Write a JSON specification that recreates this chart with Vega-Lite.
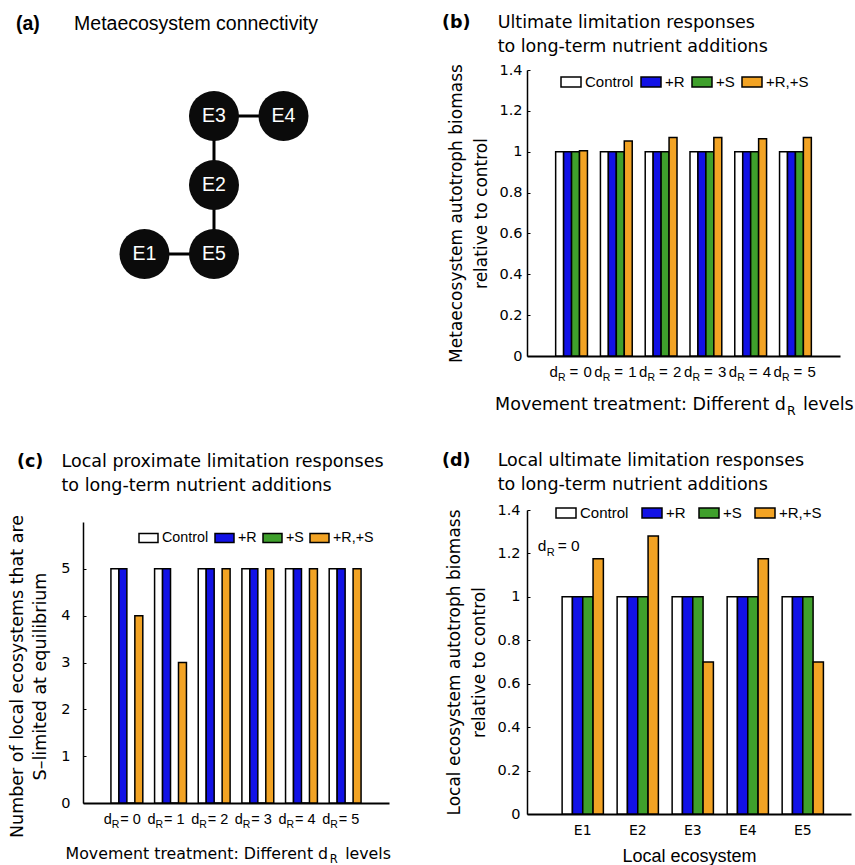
{
  "$schema": "https://vega.github.io/schema/vega-lite/v6.json",
  "background": "white",
  "padding": {"left": 8, "top": 13, "right": 0, "bottom": 0},
  "bounds": "full",
  "spacing": 51,
  "resolve": {
    "scale": {"x": "independent", "y": "independent", "fill": "independent", "xOffset": "independent"},
    "legend": {"fill": "independent"}
  },
  "datasets": {
    "b": [
      {"dR": "0", "treatment": "Control", "value": 1}, {"dR": "0", "treatment": "+R", "value": 1}, {"dR": "0", "treatment": "+S", "value": 1}, {"dR": "0", "treatment": "+R,+S", "value": 1.005},
      {"dR": "1", "treatment": "Control", "value": 1}, {"dR": "1", "treatment": "+R", "value": 1}, {"dR": "1", "treatment": "+S", "value": 1}, {"dR": "1", "treatment": "+R,+S", "value": 1.052},
      {"dR": "2", "treatment": "Control", "value": 1}, {"dR": "2", "treatment": "+R", "value": 1}, {"dR": "2", "treatment": "+S", "value": 1}, {"dR": "2", "treatment": "+R,+S", "value": 1.069},
      {"dR": "3", "treatment": "Control", "value": 1}, {"dR": "3", "treatment": "+R", "value": 1}, {"dR": "3", "treatment": "+S", "value": 1}, {"dR": "3", "treatment": "+R,+S", "value": 1.069},
      {"dR": "4", "treatment": "Control", "value": 1}, {"dR": "4", "treatment": "+R", "value": 1}, {"dR": "4", "treatment": "+S", "value": 1}, {"dR": "4", "treatment": "+R,+S", "value": 1.064},
      {"dR": "5", "treatment": "Control", "value": 1}, {"dR": "5", "treatment": "+R", "value": 1}, {"dR": "5", "treatment": "+S", "value": 1}, {"dR": "5", "treatment": "+R,+S", "value": 1.069}
    ],
    "c": [
      {"dR": "0", "treatment": "Control", "value": 5}, {"dR": "0", "treatment": "+R", "value": 5}, {"dR": "0", "treatment": "+S", "value": 0}, {"dR": "0", "treatment": "+R,+S", "value": 4},
      {"dR": "1", "treatment": "Control", "value": 5}, {"dR": "1", "treatment": "+R", "value": 5}, {"dR": "1", "treatment": "+S", "value": 0}, {"dR": "1", "treatment": "+R,+S", "value": 3},
      {"dR": "2", "treatment": "Control", "value": 5}, {"dR": "2", "treatment": "+R", "value": 5}, {"dR": "2", "treatment": "+S", "value": 0}, {"dR": "2", "treatment": "+R,+S", "value": 5},
      {"dR": "3", "treatment": "Control", "value": 5}, {"dR": "3", "treatment": "+R", "value": 5}, {"dR": "3", "treatment": "+S", "value": 0}, {"dR": "3", "treatment": "+R,+S", "value": 5},
      {"dR": "4", "treatment": "Control", "value": 5}, {"dR": "4", "treatment": "+R", "value": 5}, {"dR": "4", "treatment": "+S", "value": 0}, {"dR": "4", "treatment": "+R,+S", "value": 5},
      {"dR": "5", "treatment": "Control", "value": 5}, {"dR": "5", "treatment": "+R", "value": 5}, {"dR": "5", "treatment": "+S", "value": 0}, {"dR": "5", "treatment": "+R,+S", "value": 5}
    ],
    "d": [
      {"eco": "E1", "treatment": "Control", "value": 1}, {"eco": "E1", "treatment": "+R", "value": 1}, {"eco": "E1", "treatment": "+S", "value": 1}, {"eco": "E1", "treatment": "+R,+S", "value": 1.175},
      {"eco": "E2", "treatment": "Control", "value": 1}, {"eco": "E2", "treatment": "+R", "value": 1}, {"eco": "E2", "treatment": "+S", "value": 1}, {"eco": "E2", "treatment": "+R,+S", "value": 1.28},
      {"eco": "E3", "treatment": "Control", "value": 1}, {"eco": "E3", "treatment": "+R", "value": 1}, {"eco": "E3", "treatment": "+S", "value": 1}, {"eco": "E3", "treatment": "+R,+S", "value": 0.7},
      {"eco": "E4", "treatment": "Control", "value": 1}, {"eco": "E4", "treatment": "+R", "value": 1}, {"eco": "E4", "treatment": "+S", "value": 1}, {"eco": "E4", "treatment": "+R,+S", "value": 1.175},
      {"eco": "E5", "treatment": "Control", "value": 1}, {"eco": "E5", "treatment": "+R", "value": 1}, {"eco": "E5", "treatment": "+S", "value": 1}, {"eco": "E5", "treatment": "+R,+S", "value": 0.7}
    ],
    "groups": [{"dR": "0"}, {"dR": "1"}, {"dR": "2"}, {"dR": "3"}, {"dR": "4"}, {"dR": "5"}],
    "one": [{"k": 1}],
    "nodes": [
      {"id": "E1", "gx": -1, "gy": 0}, {"id": "E2", "gx": 0, "gy": 1}, {"id": "E3", "gx": 0, "gy": 2},
      {"id": "E4", "gx": 1, "gy": 2}, {"id": "E5", "gx": 0, "gy": 0}
    ],
    "edges": [
      {"gx": 0, "gy": 2, "gx2": 1, "gy2": 2},
      {"gx": 0, "gy": 2, "gx2": 0, "gy2": 1},
      {"gx": 0, "gy": 1, "gx2": 0, "gy2": 0},
      {"gx": -1, "gy": 0, "gx2": 0, "gy2": 0}
    ]
  },
  "hconcat": [
    {
      "bounds": "flush",
      "spacing": 154,
      "resolve": {
        "scale": {"x": "independent", "y": "independent", "fill": "independent", "xOffset": "independent"},
        "legend": {"fill": "independent"}
      },
      "vconcat": [
        {
          "width": 305,
          "height": 298,
          "title": {
            "text": "(a)",
            "subtitle": "\u200b\u00a0\u00a0\u00a0\u00a0\u00a0\u00a0\u00a0\u00a0\u00a0\u00a0\u2009Metaecosystem connectivity",
            "anchor": "start", "frame": "group", "dx": -67, "offset": 36,
            "font": "Liberation Sans", "fontSize": 19.5, "fontWeight": "bold", "color": "black",
            "subtitleFont": "Liberation Sans", "subtitleFontSize": 19.5, "subtitleColor": "black", "subtitlePadding": -19.5
          },
          "layer": [
            {
              "data": {"name": "edges"},
              "mark": {"type": "rule", "strokeWidth": 3, "color": "black"},
              "encoding": {
                "x": {"field": "gx", "type": "quantitative", "scale": {"domain": [-1.885, 2.504], "nice": false, "zero": false}, "axis": null},
                "y": {"field": "gy", "type": "quantitative", "scale": {"domain": [-1.652, 2.667], "nice": false, "zero": false}, "axis": null},
                "x2": {"field": "gx2"},
                "y2": {"field": "gy2"}
              }
            },
            {
              "data": {"name": "nodes"},
              "mark": {"type": "point", "shape": "circle", "filled": true, "size": 2500, "color": "#0b0b0b", "opacity": 1},
              "encoding": {
                "x": {"field": "gx", "type": "quantitative", "axis": null},
                "y": {"field": "gy", "type": "quantitative", "axis": null}
              }
            },
            {
              "data": {"name": "nodes"},
              "mark": {"type": "text", "color": "white", "font": "Liberation Sans", "fontSize": 19.5, "baseline": "middle", "align": "center"},
              "encoding": {
                "x": {"field": "gx", "type": "quantitative", "axis": null},
                "y": {"field": "gy", "type": "quantitative", "axis": null},
                "text": {"field": "id"}
              }
            }
          ]
        },
        {
          "width": 306,
          "height": 281,
          "title": {
            "text": "(c)",
            "subtitle": ["\u200b\u00a0\u00a0\u00a0\u00a0\u00a0\u00a0\u00a0\u00a0Local proximate limitation responses", "\u200b\u00a0\u00a0\u00a0\u00a0\u00a0\u00a0\u00a0\u00a0to long-term nutrient additions"],
            "anchor": "start", "frame": "group", "dx": -66, "offset": 20,
            "font": "DejaVu Sans", "fontSize": 17.5, "fontWeight": "bold", "color": "black",
            "subtitleFont": "DejaVu Sans", "subtitleFontSize": 17.5, "subtitleColor": "black", "subtitlePadding": -17.5, "subtitleLineHeight": 24
          },
          "layer": [
            {
              "data": {"name": "c"},
              "mark": {"type": "bar", "stroke": "black", "strokeWidth": 1.5},
              "encoding": {
                "x": {"field": "dR", "type": "nominal", "scale": {"paddingInner": 0.27, "paddingOuter": 0.64},
                      "axis": {"labels": false, "ticks": false, "title": null, "domainWidth": 2}},
                "xOffset": {"field": "treatment", "type": "nominal", "scale": {"domain": ["Control", "+R", "+S", "+R,+S"], "paddingInner": 0, "paddingOuter": 0}},
                "y": {"field": "value", "type": "quantitative", "scale": {"domain": [0, 6], "nice": false},
                      "axis": {"values": [0, 1, 2, 3, 4, 5], "title": ["Number of local ecosystems that are", "S\u2013limited at equilibrium"],
                               "titleFontSize": 17.5, "titleLineHeight": 23, "titlePadding": 11, "titleY": 154, "labelFontSize": 14.5, "tickSize": -3, "labelPadding": 16, "domainWidth": 1.5}},
                "fill": {"field": "treatment", "type": "nominal",
                         "scale": {"domain": ["Control", "+R", "+S", "+R,+S"], "range": ["#ffffff", "#1212e6", "#3fa02c", "#f2a324"]},
                         "legend": {"orient": "none", "legendX": 55, "legendY": 5.5, "direction": "horizontal", "columns": 4, "title": null,
                                    "symbolType": "M-1,-0.47H1V0.47H-1Z", "symbolSize": 361, "symbolStrokeColor": "black", "symbolStrokeWidth": 1.5, "symbolOpacity": 1,
                                    "labelFont": "Liberation Sans", "labelFontSize": 14.3, "labelColor": "black", "labelOffset": 3, "columnPadding": 3, "padding": 0}}
              }
            },
            {
              "data": {"name": "groups"},
              "mark": {"type": "text", "text": "d", "font": "Liberation Sans", "fontSize": 14.5, "align": "left", "baseline": "alphabetic", "dx": -23, "dy": 21, "color": "black"},
              "encoding": {"x": {"field": "dR", "type": "nominal"}, "y": {"datum": 0}}
            },
            {
              "data": {"name": "groups"},
              "mark": {"type": "text", "text": "R", "font": "Liberation Sans", "fontSize": 10.5, "align": "left", "baseline": "alphabetic", "dx": -15, "dy": 25, "color": "black"},
              "encoding": {"x": {"field": "dR", "type": "nominal"}, "y": {"datum": 0}}
            },
            {
              "data": {"name": "groups"},
              "mark": {"type": "text", "text": "=", "font": "Liberation Sans", "fontSize": 14.5, "align": "left", "baseline": "alphabetic", "dx": -6.5, "dy": 21, "color": "black"},
              "encoding": {"x": {"field": "dR", "type": "nominal"}, "y": {"datum": 0}}
            },
            {
              "data": {"name": "groups"},
              "mark": {"type": "text", "font": "Liberation Sans", "fontSize": 14.5, "align": "left", "baseline": "alphabetic", "dx": 6, "dy": 21, "color": "black"},
              "encoding": {"x": {"field": "dR", "type": "nominal"}, "y": {"datum": 0}, "text": {"field": "dR"}}
            },
            {
              "data": {"name": "one"},
              "mark": {"type": "text", "text": "Movement treatment: Different d", "font": "DejaVu Sans", "fontSize": 15.8, "align": "right", "baseline": "alphabetic", "dx": -17, "dy": 56, "color": "black"},
              "encoding": {"x": {"datum": "5"}, "y": {"datum": 0}}
            },
            {
              "data": {"name": "one"},
              "mark": {"type": "text", "text": "R", "font": "DejaVu Sans", "fontSize": 11.5, "align": "left", "baseline": "alphabetic", "dx": -15.5, "dy": 60, "color": "black"},
              "encoding": {"x": {"datum": "5"}, "y": {"datum": 0}}
            },
            {
              "data": {"name": "one"},
              "mark": {"type": "text", "text": "levels", "font": "DejaVu Sans", "fontSize": 15.8, "align": "left", "baseline": "alphabetic", "dx": 0, "dy": 56, "color": "black"},
              "encoding": {"x": {"datum": "5"}, "y": {"datum": 0}}
            }
          ]
        }
      ]
    },
    {
      "bounds": "flush",
      "spacing": 154,
      "resolve": {
        "scale": {"x": "independent", "y": "independent", "fill": "independent", "xOffset": "independent"},
        "legend": {"fill": "independent"}
      },
      "vconcat": [
        {
          "width": 313,
          "height": 286,
          "title": {
            "text": "(b)",
            "subtitle": ["\u200b\u00a0\u00a0\u00a0\u00a0\u00a0\u00a0\u00a0\u00a0\u00a0\u00a0Ultimate limitation responses", "\u200b\u00a0\u00a0\u00a0\u00a0\u00a0\u00a0\u00a0\u00a0\u00a0\u00a0to long-term nutrient additions"],
            "anchor": "start", "frame": "group", "dx": -85, "offset": 7,
            "font": "DejaVu Sans", "fontSize": 17.5, "fontWeight": "bold", "color": "black",
            "subtitleFont": "DejaVu Sans", "subtitleFontSize": 17.5, "subtitleColor": "black", "subtitlePadding": -17.5, "subtitleLineHeight": 24
          },
          "layer": [
            {
              "data": {"name": "b"},
              "mark": {"type": "bar", "stroke": "black", "strokeWidth": 1.5},
              "encoding": {
                "x": {"field": "dR", "type": "nominal", "scale": {"paddingInner": 0.29, "paddingOuter": 0.64},
                      "axis": {"labels": false, "ticks": false, "title": null, "domainWidth": 2}},
                "xOffset": {"field": "treatment", "type": "nominal", "scale": {"domain": ["Control", "+R", "+S", "+R,+S"], "paddingInner": 0, "paddingOuter": 0}},
                "y": {"field": "value", "type": "quantitative", "scale": {"domain": [0, 1.4], "nice": false},
                      "axis": {"values": [0, 0.2, 0.4, 0.6, 0.8, 1, 1.2, 1.4], "format": "~g", "title": ["Metaecosystem autotroph biomass", "relative to control"],
                               "titleFontSize": 17, "titleLineHeight": 25, "titlePadding": 8, "labelFontSize": 14.5, "tickSize": -3, "labelPadding": 8, "domainWidth": 1.5}},
                "fill": {"field": "treatment", "type": "nominal",
                         "scale": {"domain": ["Control", "+R", "+S", "+R,+S"], "range": ["#ffffff", "#1212e6", "#3fa02c", "#f2a324"]},
                         "legend": {"orient": "none", "legendX": 33, "legendY": 1, "direction": "horizontal", "columns": 4, "title": null,
                                    "symbolType": "M-1,-0.5H1V0.5H-1Z", "symbolSize": 400, "symbolStrokeColor": "black", "symbolStrokeWidth": 1.5, "symbolOpacity": 1,
                                    "labelFont": "Liberation Sans", "labelFontSize": 15, "labelColor": "black", "labelOffset": 3, "columnPadding": 4, "padding": 0}}
              }
            },
            {
              "data": {"name": "groups"},
              "mark": {"type": "text", "text": "d", "font": "Liberation Sans", "fontSize": 15, "align": "left", "baseline": "alphabetic", "dx": -22, "dy": 21, "color": "black"},
              "encoding": {"x": {"field": "dR", "type": "nominal"}, "y": {"datum": 0}}
            },
            {
              "data": {"name": "groups"},
              "mark": {"type": "text", "text": "R", "font": "Liberation Sans", "fontSize": 10.5, "align": "left", "baseline": "alphabetic", "dx": -13.5, "dy": 25, "color": "black"},
              "encoding": {"x": {"field": "dR", "type": "nominal"}, "y": {"datum": 0}}
            },
            {
              "data": {"name": "groups"},
              "mark": {"type": "text", "text": "=", "font": "Liberation Sans", "fontSize": 15, "align": "left", "baseline": "alphabetic", "dx": -2, "dy": 21, "color": "black"},
              "encoding": {"x": {"field": "dR", "type": "nominal"}, "y": {"datum": 0}}
            },
            {
              "data": {"name": "groups"},
              "mark": {"type": "text", "font": "Liberation Sans", "fontSize": 15, "align": "left", "baseline": "alphabetic", "dx": 12, "dy": 21, "color": "black"},
              "encoding": {"x": {"field": "dR", "type": "nominal"}, "y": {"datum": 0}, "text": {"field": "dR"}}
            },
            {
              "data": {"name": "one"},
              "mark": {"type": "text", "text": "Movement treatment: Different d", "font": "DejaVu Sans", "fontSize": 17.5, "align": "right", "baseline": "alphabetic", "dx": -9.5, "dy": 54, "color": "black"},
              "encoding": {"x": {"datum": "5"}, "y": {"datum": 0}}
            },
            {
              "data": {"name": "one"},
              "mark": {"type": "text", "text": "R", "font": "DejaVu Sans", "fontSize": 12.5, "align": "left", "baseline": "alphabetic", "dx": -8.5, "dy": 59, "color": "black"},
              "encoding": {"x": {"datum": "5"}, "y": {"datum": 0}}
            },
            {
              "data": {"name": "one"},
              "mark": {"type": "text", "text": "levels", "font": "DejaVu Sans", "fontSize": 17.5, "align": "left", "baseline": "alphabetic", "dx": 7.5, "dy": 54, "color": "black"},
              "encoding": {"x": {"datum": "5"}, "y": {"datum": 0}}
            }
          ]
        },
        {
          "width": 324,
          "height": 304,
          "title": {
            "text": "(d)",
            "subtitle": ["\u200b\u00a0\u00a0\u00a0\u00a0\u00a0\u00a0\u00a0\u00a0\u00a0\u00a0Local ultimate limitation responses", "\u200b\u00a0\u00a0\u00a0\u00a0\u00a0\u00a0\u00a0\u00a0\u00a0\u00a0to long-term nutrient additions"],
            "anchor": "start", "frame": "group", "dx": -85, "offset": 9,
            "font": "DejaVu Sans", "fontSize": 17.5, "fontWeight": "bold", "color": "black",
            "subtitleFont": "DejaVu Sans", "subtitleFontSize": 17.5, "subtitleColor": "black", "subtitlePadding": -17.5, "subtitleLineHeight": 24
          },
          "layer": [
            {
              "data": {"name": "d"},
              "mark": {"type": "bar", "stroke": "black", "strokeWidth": 1.5},
              "encoding": {
                "x": {"field": "eco", "type": "nominal", "scale": {"paddingInner": 0.25, "paddingOuter": 0.57, "align": 0.56},
                      "axis": {"ticks": false, "title": "Local ecosystem", "titleFont": "Liberation Sans", "titleFontSize": 18, "titlePadding": 10,
                               "labelFont": "DejaVu Sans", "labelFontSize": 14, "labelPadding": 9, "labelAngle": 0, "domainWidth": 2}},
                "xOffset": {"field": "treatment", "type": "nominal", "scale": {"domain": ["Control", "+R", "+S", "+R,+S"], "paddingInner": 0, "paddingOuter": 0}},
                "y": {"field": "value", "type": "quantitative", "scale": {"domain": [0, 1.4], "nice": false},
                      "axis": {"values": [0, 0.2, 0.4, 0.6, 0.8, 1, 1.2, 1.4], "format": "~g", "title": ["Local ecosystem autotroph biomass", "relative to control"],
                               "titleFontSize": 17, "titleLineHeight": 25, "titlePadding": 8, "labelFontSize": 14.5, "tickSize": -3, "labelPadding": 10, "domainWidth": 1.5}},
                "fill": {"field": "treatment", "type": "nominal",
                         "scale": {"domain": ["Control", "+R", "+S", "+R,+S"], "range": ["#ffffff", "#1212e6", "#3fa02c", "#f2a324"]},
                         "legend": {"orient": "none", "legendX": 28, "legendY": -8, "direction": "horizontal", "columns": 4, "title": null,
                                    "symbolType": "M-1,-0.5H1V0.5H-1Z", "symbolSize": 400, "symbolStrokeColor": "black", "symbolStrokeWidth": 1.5, "symbolOpacity": 1,
                                    "labelFont": "Liberation Sans", "labelFontSize": 15, "labelColor": "black", "labelOffset": 3, "columnPadding": 10, "padding": 0}}
              }
            },
            {
              "data": {"name": "one"},
              "mark": {"type": "text", "text": "d", "font": "Liberation Sans", "fontSize": 15.5, "align": "left", "baseline": "alphabetic", "dx": -45, "dy": -2, "color": "black"},
              "encoding": {"x": {"datum": "E1"}, "y": {"datum": 1.2}}
            },
            {
              "data": {"name": "one"},
              "mark": {"type": "text", "text": "R", "font": "Liberation Sans", "fontSize": 11, "align": "left", "baseline": "alphabetic", "dx": -36, "dy": 2.5, "color": "black"},
              "encoding": {"x": {"datum": "E1"}, "y": {"datum": 1.2}}
            },
            {
              "data": {"name": "one"},
              "mark": {"type": "text", "text": "= 0", "font": "Liberation Sans", "fontSize": 15.5, "align": "left", "baseline": "alphabetic", "dx": -25, "dy": -2, "color": "black"},
              "encoding": {"x": {"datum": "E1"}, "y": {"datum": 1.2}}
            }
          ]
        }
      ]
    }
  ],
  "config": {
    "view": {"stroke": null},
    "axis": {"domainColor": "black", "tickColor": "black", "labelColor": "black", "titleColor": "black",
             "labelFont": "DejaVu Sans", "titleFont": "DejaVu Sans", "titleFontWeight": "normal", "grid": false}
  }
}
